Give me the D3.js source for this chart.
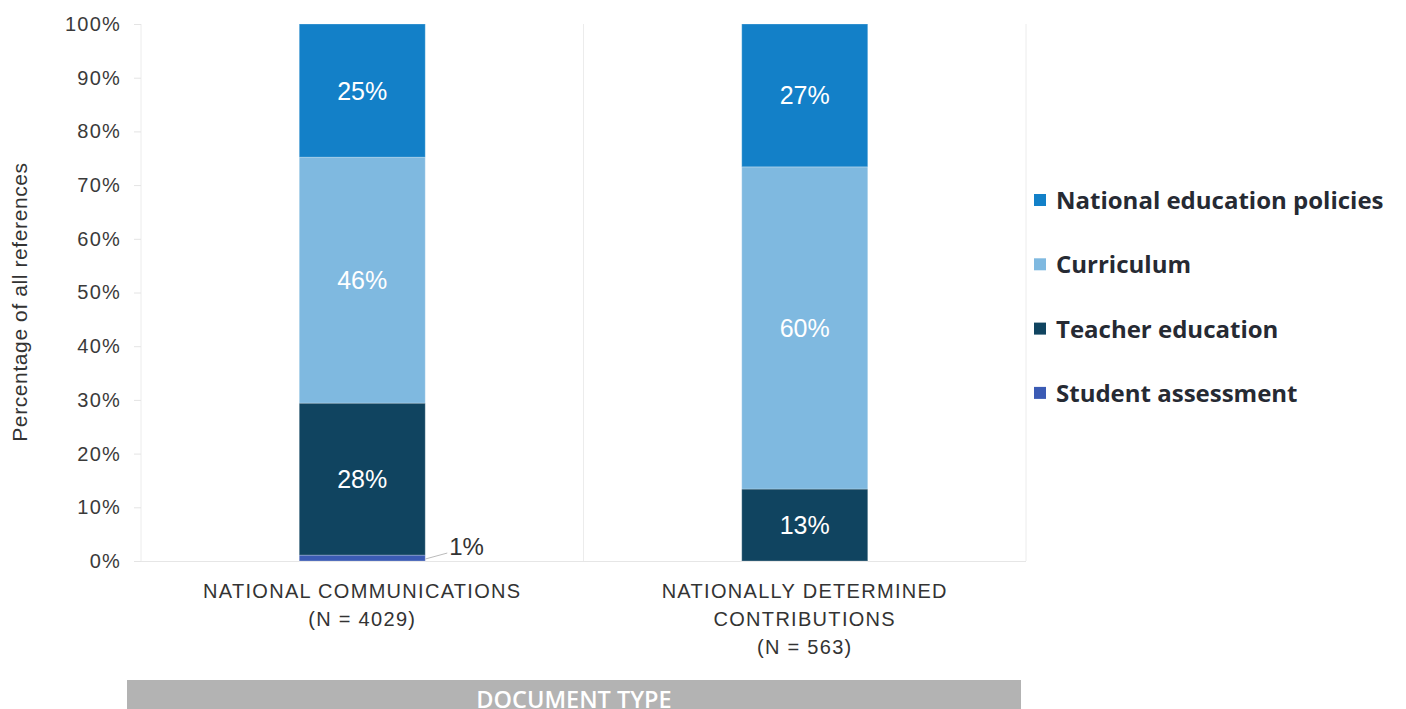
<!DOCTYPE html>
<html><head><meta charset="utf-8">
<script src="https://cdn.jsdelivr.net/npm/d3@7"></script>
<style>body{margin:0;background:#fff;}svg{display:block;}</style>
</head><body>
<svg id="c" width="1406" height="709"></svg>
<script>
const categories = [["NATIONAL COMMUNICATIONS","(N = 4029)"],["NATIONALLY DETERMINED","CONTRIBUTIONS","(N = 563)"]];
const categoryKeys = ["NC","NDC"];
const seriesNames = ["Student assessment","Teacher education","Curriculum","National education policies"];
const studentAssessment = [1.1, 0];
const teacherEducation = [28.3, 13.4];
const curriculum = [45.8, 60.0];
const nationalPolicies = [24.8, 26.6];
const yTicks = [0,10,20,30,40,50,60,70,80,90,100];
const legendOrder = ["National education policies","Curriculum","Teacher education","Student assessment"];
const colors = {"Student assessment":"#3B5BB4","Teacher education":"#104460","Curriculum":"#7FB9E0","National education policies":"#1380C8"};

const seriesValues = [studentAssessment, teacherEducation, curriculum, nationalPolicies];
const rows = categoryKeys.map((k,i)=>{const o={key:k}; seriesNames.forEach((s,j)=>o[s]=seriesValues[j][i]); return o;});
const stack = d3.stack().keys(seriesNames)(rows);
const pct = v => d3.format(".0f")(v) + "%";

const svg = d3.select("#c");
const pL=141, pR=1026, pT=24, pB=561;
const x = d3.scaleBand().domain(categoryKeys).range([pL,pR]).paddingInner(0).paddingOuter(0);
const y = d3.scaleLinear().domain([0,100]).range([pB,pT]);
const barW = 126;
const font = "'Liberation Sans', Arial, sans-serif";

// vertical separators
[pL, x(categoryKeys[1]), pR].forEach(v=>{
  svg.append("line").attr("x1",v).attr("x2",v).attr("y1",pT).attr("y2",pB).attr("stroke","#ECECEC").attr("stroke-width",1);
});
svg.append("line").attr("x1",pL).attr("x2",pR).attr("y1",pB+0.5).attr("y2",pB+0.5).attr("stroke","#E6E6E6");

// y axis
const yAxis = d3.axisLeft(y).tickValues(yTicks).tickFormat(d=>d+"%").tickSize(7).tickPadding(13);
const ga = svg.append("g").attr("transform",`translate(${pL},0)`).call(yAxis);
ga.select(".domain").remove();
ga.selectAll(".tick line").attr("stroke","#E4E4E4");
ga.selectAll(".tick text").attr("font-family",font).attr("font-size",20).attr("letter-spacing","1.2px").attr("fill","#3a3a3a");

svg.append("text").attr("transform","translate(27,302) rotate(-90)").attr("text-anchor","middle")
  .attr("font-family",font).attr("font-size",21).attr("letter-spacing","0.6px").attr("fill","#333").text("Percentage of all references");

// bars
stack.forEach(layer=>{
  const g = svg.append("g");
  layer.forEach((d,i)=>{
    const v = d[1]-d[0];
    if (v<=0) return;
    const cx = x(categoryKeys[i]) + x.bandwidth()/2;
    g.append("rect").attr("x",cx-barW/2).attr("width",barW)
      .attr("y",y(d[1])).attr("height",y(d[0])-y(d[1]))
      .attr("fill",colors[layer.key]).attr("stroke","rgba(255,255,255,0.25)").attr("stroke-width",1);
    if (v>=5) {
      g.append("text").attr("x",cx).attr("y",(y(d[0])+y(d[1]))/2+9).attr("text-anchor","middle")
        .attr("font-family",font).attr("font-size",25).attr("fill","#fff").text(pct(v));
    } else {
      const ex = cx+barW/2, ey = (y(d[0])+y(d[1]))/2+1;
      g.append("line").attr("x1",ex).attr("y1",ey).attr("x2",ex+22).attr("y2",ey-6).attr("stroke","#bbb").attr("stroke-width",1);
      g.append("text").attr("x",ex+24).attr("y",ey-4).attr("font-family",font).attr("font-size",24).attr("fill","#333").text(pct(v));
    }
  });
});

// category labels
categories.forEach((lines,i)=>{
  const cx = x(categoryKeys[i]) + x.bandwidth()/2;
  lines.forEach((t,j)=>{
    svg.append("text").attr("x",cx).attr("y",598+j*28).attr("text-anchor","middle")
      .attr("font-family",font).attr("font-size",20).attr("letter-spacing","1.3px").attr("fill","#333").text(t);
  });
});

// document type bar
svg.append("rect").attr("x",127).attr("y",680).attr("width",894).attr("height",40).attr("fill","#B3B3B3");
svg.append("text").attr("x",(127+1021)/2).attr("y",708).attr("text-anchor","middle")
  .attr("font-family","'Open Sans', sans-serif").attr("font-weight",600).attr("font-size",23.5).attr("fill","#fff").text("DOCUMENT TYPE");

// legend
legendOrder.forEach((s,i)=>{
  const ly = 200 + i*64.3;
  svg.append("rect").attr("x",1034).attr("y",ly-6).attr("width",12).attr("height",12).attr("fill",colors[s]);
  svg.append("text").attr("x",1056).attr("y",ly+9).attr("font-family","'Open Sans', sans-serif").attr("font-weight",700)
    .attr("font-size",24).attr("fill","#262a33").text(s);
});
</script>
</body></html>
